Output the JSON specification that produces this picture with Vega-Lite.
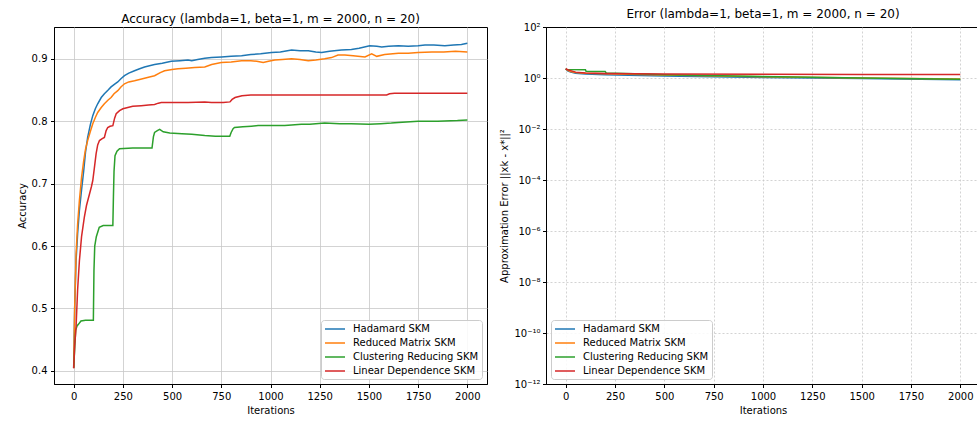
{
  "$schema": "https://vega.github.io/schema/vega-lite/v6.json",
  "padding": {"left": 16, "top": 7, "right": 0, "bottom": 0},
  "spacing": 11,
  "config": {
    "font": "DejaVu Sans",
    "view": {"stroke": "#000000", "strokeWidth": 1},
    "axis": {"labelFont": "DejaVu Sans", "labelFontSize": 10, "labelColor": "#000000", "titleFont": "DejaVu Sans", "titleFontSize": 10, "titleFontWeight": "normal", "titleColor": "#000000", "domainColor": "#000000", "tickColor": "#000000", "tickSize": 3.5, "labelPadding": 3.5, "gridColor": "#c8c8c8", "gridWidth": 0.8},
    "title": {"font": "DejaVu Sans", "fontSize": 12, "fontWeight": "normal", "color": "#000000", "offset": 0, "dy": 3},
    "legend": {"labelFont": "DejaVu Sans", "labelFontSize": 10, "labelColor": "#000000", "symbolType": "M-1,0L3,0", "symbolSize": 100, "symbolStrokeWidth": 1.5, "strokeColor": "#cccccc", "fillColor": "rgba(255,255,255,0.85)", "cornerRadius": 3, "padding": 3, "rowPadding": 3, "labelOffset": 17, "offset": 5}
  },
  "datasets": {
    "acc": [
      {"s":"Hadamard SKM","it":0,"v":0.405},{"s":"Hadamard SKM","it":5,"v":0.5},{"s":"Hadamard SKM","it":12,"v":0.576},{"s":"Hadamard SKM","it":20,"v":0.62},{"s":"Hadamard SKM","it":29,"v":0.657},{"s":"Hadamard SKM","it":40,"v":0.69},{"s":"Hadamard SKM","it":51,"v":0.721},{"s":"Hadamard SKM","it":60,"v":0.75},{"s":"Hadamard SKM","it":71,"v":0.774},{"s":"Hadamard SKM","it":85,"v":0.795},{"s":"Hadamard SKM","it":97,"v":0.809},{"s":"Hadamard SKM","it":110,"v":0.82},{"s":"Hadamard SKM","it":122,"v":0.828},{"s":"Hadamard SKM","it":140,"v":0.838},{"s":"Hadamard SKM","it":156,"v":0.844},{"s":"Hadamard SKM","it":175,"v":0.85},{"s":"Hadamard SKM","it":190,"v":0.855},{"s":"Hadamard SKM","it":210,"v":0.86},{"s":"Hadamard SKM","it":224,"v":0.863},{"s":"Hadamard SKM","it":240,"v":0.868},{"s":"Hadamard SKM","it":258,"v":0.873},{"s":"Hadamard SKM","it":280,"v":0.877},{"s":"Hadamard SKM","it":309,"v":0.881},{"s":"Hadamard SKM","it":335,"v":0.884},{"s":"Hadamard SKM","it":360,"v":0.887},{"s":"Hadamard SKM","it":385,"v":0.889},{"s":"Hadamard SKM","it":411,"v":0.891},{"s":"Hadamard SKM","it":450,"v":0.893},{"s":"Hadamard SKM","it":496,"v":0.896},{"s":"Hadamard SKM","it":540,"v":0.897},{"s":"Hadamard SKM","it":581,"v":0.898},{"s":"Hadamard SKM","it":600,"v":0.897},{"s":"Hadamard SKM","it":630,"v":0.899},{"s":"Hadamard SKM","it":666,"v":0.901},{"s":"Hadamard SKM","it":700,"v":0.902},{"s":"Hadamard SKM","it":751,"v":0.903},{"s":"Hadamard SKM","it":800,"v":0.904},{"s":"Hadamard SKM","it":853,"v":0.905},{"s":"Hadamard SKM","it":900,"v":0.907},{"s":"Hadamard SKM","it":950,"v":0.908},{"s":"Hadamard SKM","it":1005,"v":0.91},{"s":"Hadamard SKM","it":1050,"v":0.911},{"s":"Hadamard SKM","it":1107,"v":0.914},{"s":"Hadamard SKM","it":1150,"v":0.913},{"s":"Hadamard SKM","it":1192,"v":0.913},{"s":"Hadamard SKM","it":1230,"v":0.911},{"s":"Hadamard SKM","it":1260,"v":0.91},{"s":"Hadamard SKM","it":1300,"v":0.912},{"s":"Hadamard SKM","it":1360,"v":0.914},{"s":"Hadamard SKM","it":1411,"v":0.915},{"s":"Hadamard SKM","it":1450,"v":0.917},{"s":"Hadamard SKM","it":1504,"v":0.921},{"s":"Hadamard SKM","it":1540,"v":0.92},{"s":"Hadamard SKM","it":1565,"v":0.919},{"s":"Hadamard SKM","it":1600,"v":0.92},{"s":"Hadamard SKM","it":1650,"v":0.921},{"s":"Hadamard SKM","it":1700,"v":0.92},{"s":"Hadamard SKM","it":1750,"v":0.921},{"s":"Hadamard SKM","it":1785,"v":0.922},{"s":"Hadamard SKM","it":1830,"v":0.922},{"s":"Hadamard SKM","it":1886,"v":0.921},{"s":"Hadamard SKM","it":1930,"v":0.922},{"s":"Hadamard SKM","it":1970,"v":0.923},{"s":"Hadamard SKM","it":2000,"v":0.925},
      {"s":"Reduced Matrix SKM","it":0,"v":0.405},{"s":"Reduced Matrix SKM","it":5,"v":0.5},{"s":"Reduced Matrix SKM","it":12,"v":0.587},{"s":"Reduced Matrix SKM","it":20,"v":0.635},{"s":"Reduced Matrix SKM","it":29,"v":0.673},{"s":"Reduced Matrix SKM","it":40,"v":0.71},{"s":"Reduced Matrix SKM","it":51,"v":0.737},{"s":"Reduced Matrix SKM","it":60,"v":0.755},{"s":"Reduced Matrix SKM","it":71,"v":0.769},{"s":"Reduced Matrix SKM","it":85,"v":0.784},{"s":"Reduced Matrix SKM","it":97,"v":0.796},{"s":"Reduced Matrix SKM","it":110,"v":0.806},{"s":"Reduced Matrix SKM","it":122,"v":0.814},{"s":"Reduced Matrix SKM","it":140,"v":0.822},{"s":"Reduced Matrix SKM","it":156,"v":0.828},{"s":"Reduced Matrix SKM","it":175,"v":0.834},{"s":"Reduced Matrix SKM","it":190,"v":0.838},{"s":"Reduced Matrix SKM","it":205,"v":0.844},{"s":"Reduced Matrix SKM","it":224,"v":0.849},{"s":"Reduced Matrix SKM","it":240,"v":0.855},{"s":"Reduced Matrix SKM","it":258,"v":0.86},{"s":"Reduced Matrix SKM","it":280,"v":0.863},{"s":"Reduced Matrix SKM","it":309,"v":0.865},{"s":"Reduced Matrix SKM","it":335,"v":0.867},{"s":"Reduced Matrix SKM","it":360,"v":0.869},{"s":"Reduced Matrix SKM","it":385,"v":0.871},{"s":"Reduced Matrix SKM","it":411,"v":0.873},{"s":"Reduced Matrix SKM","it":440,"v":0.878},{"s":"Reduced Matrix SKM","it":462,"v":0.881},{"s":"Reduced Matrix SKM","it":500,"v":0.883},{"s":"Reduced Matrix SKM","it":530,"v":0.884},{"s":"Reduced Matrix SKM","it":570,"v":0.885},{"s":"Reduced Matrix SKM","it":615,"v":0.886},{"s":"Reduced Matrix SKM","it":666,"v":0.887},{"s":"Reduced Matrix SKM","it":701,"v":0.891},{"s":"Reduced Matrix SKM","it":750,"v":0.894},{"s":"Reduced Matrix SKM","it":800,"v":0.895},{"s":"Reduced Matrix SKM","it":853,"v":0.897},{"s":"Reduced Matrix SKM","it":900,"v":0.897},{"s":"Reduced Matrix SKM","it":930,"v":0.896},{"s":"Reduced Matrix SKM","it":963,"v":0.894},{"s":"Reduced Matrix SKM","it":990,"v":0.896},{"s":"Reduced Matrix SKM","it":1022,"v":0.898},{"s":"Reduced Matrix SKM","it":1060,"v":0.899},{"s":"Reduced Matrix SKM","it":1107,"v":0.9},{"s":"Reduced Matrix SKM","it":1150,"v":0.899},{"s":"Reduced Matrix SKM","it":1192,"v":0.897},{"s":"Reduced Matrix SKM","it":1230,"v":0.898},{"s":"Reduced Matrix SKM","it":1275,"v":0.9},{"s":"Reduced Matrix SKM","it":1310,"v":0.902},{"s":"Reduced Matrix SKM","it":1343,"v":0.906},{"s":"Reduced Matrix SKM","it":1378,"v":0.906},{"s":"Reduced Matrix SKM","it":1420,"v":0.905},{"s":"Reduced Matrix SKM","it":1480,"v":0.903},{"s":"Reduced Matrix SKM","it":1514,"v":0.908},{"s":"Reduced Matrix SKM","it":1540,"v":0.904},{"s":"Reduced Matrix SKM","it":1580,"v":0.907},{"s":"Reduced Matrix SKM","it":1650,"v":0.909},{"s":"Reduced Matrix SKM","it":1700,"v":0.909},{"s":"Reduced Matrix SKM","it":1750,"v":0.91},{"s":"Reduced Matrix SKM","it":1820,"v":0.911},{"s":"Reduced Matrix SKM","it":1880,"v":0.911},{"s":"Reduced Matrix SKM","it":1940,"v":0.912},{"s":"Reduced Matrix SKM","it":2000,"v":0.911},
      {"s":"Clustering Reducing SKM","it":0,"v":0.405},{"s":"Clustering Reducing SKM","it":10,"v":0.465},{"s":"Clustering Reducing SKM","it":17,"v":0.472},{"s":"Clustering Reducing SKM","it":25,"v":0.475},{"s":"Clustering Reducing SKM","it":37,"v":0.48},{"s":"Clustering Reducing SKM","it":60,"v":0.481},{"s":"Clustering Reducing SKM","it":100,"v":0.481},{"s":"Clustering Reducing SKM","it":103,"v":0.56},{"s":"Clustering Reducing SKM","it":107,"v":0.6},{"s":"Clustering Reducing SKM","it":115,"v":0.615},{"s":"Clustering Reducing SKM","it":130,"v":0.63},{"s":"Clustering Reducing SKM","it":150,"v":0.633},{"s":"Clustering Reducing SKM","it":199,"v":0.633},{"s":"Clustering Reducing SKM","it":202,"v":0.68},{"s":"Clustering Reducing SKM","it":205,"v":0.72},{"s":"Clustering Reducing SKM","it":210,"v":0.745},{"s":"Clustering Reducing SKM","it":220,"v":0.752},{"s":"Clustering Reducing SKM","it":233,"v":0.756},{"s":"Clustering Reducing SKM","it":300,"v":0.757},{"s":"Clustering Reducing SKM","it":398,"v":0.757},{"s":"Clustering Reducing SKM","it":405,"v":0.775},{"s":"Clustering Reducing SKM","it":411,"v":0.782},{"s":"Clustering Reducing SKM","it":425,"v":0.785},{"s":"Clustering Reducing SKM","it":437,"v":0.787},{"s":"Clustering Reducing SKM","it":455,"v":0.783},{"s":"Clustering Reducing SKM","it":488,"v":0.781},{"s":"Clustering Reducing SKM","it":550,"v":0.78},{"s":"Clustering Reducing SKM","it":600,"v":0.779},{"s":"Clustering Reducing SKM","it":666,"v":0.777},{"s":"Clustering Reducing SKM","it":720,"v":0.776},{"s":"Clustering Reducing SKM","it":793,"v":0.776},{"s":"Clustering Reducing SKM","it":800,"v":0.782},{"s":"Clustering Reducing SKM","it":810,"v":0.788},{"s":"Clustering Reducing SKM","it":817,"v":0.79},{"s":"Clustering Reducing SKM","it":860,"v":0.791},{"s":"Clustering Reducing SKM","it":903,"v":0.792},{"s":"Clustering Reducing SKM","it":937,"v":0.793},{"s":"Clustering Reducing SKM","it":1000,"v":0.793},{"s":"Clustering Reducing SKM","it":1072,"v":0.793},{"s":"Clustering Reducing SKM","it":1107,"v":0.794},{"s":"Clustering Reducing SKM","it":1157,"v":0.795},{"s":"Clustering Reducing SKM","it":1200,"v":0.795},{"s":"Clustering Reducing SKM","it":1275,"v":0.797},{"s":"Clustering Reducing SKM","it":1352,"v":0.796},{"s":"Clustering Reducing SKM","it":1410,"v":0.796},{"s":"Clustering Reducing SKM","it":1500,"v":0.795},{"s":"Clustering Reducing SKM","it":1560,"v":0.796},{"s":"Clustering Reducing SKM","it":1614,"v":0.797},{"s":"Clustering Reducing SKM","it":1650,"v":0.798},{"s":"Clustering Reducing SKM","it":1750,"v":0.8},{"s":"Clustering Reducing SKM","it":1850,"v":0.8},{"s":"Clustering Reducing SKM","it":1950,"v":0.801},{"s":"Clustering Reducing SKM","it":2000,"v":0.802},
      {"s":"Linear Dependence SKM","it":0,"v":0.404},{"s":"Linear Dependence SKM","it":5,"v":0.44},{"s":"Linear Dependence SKM","it":12,"v":0.47},{"s":"Linear Dependence SKM","it":20,"v":0.53},{"s":"Linear Dependence SKM","it":29,"v":0.576},{"s":"Linear Dependence SKM","it":40,"v":0.615},{"s":"Linear Dependence SKM","it":54,"v":0.646},{"s":"Linear Dependence SKM","it":65,"v":0.665},{"s":"Linear Dependence SKM","it":80,"v":0.683},{"s":"Linear Dependence SKM","it":90,"v":0.695},{"s":"Linear Dependence SKM","it":97,"v":0.705},{"s":"Linear Dependence SKM","it":105,"v":0.725},{"s":"Linear Dependence SKM","it":114,"v":0.748},{"s":"Linear Dependence SKM","it":122,"v":0.762},{"s":"Linear Dependence SKM","it":131,"v":0.769},{"s":"Linear Dependence SKM","it":145,"v":0.772},{"s":"Linear Dependence SKM","it":156,"v":0.774},{"s":"Linear Dependence SKM","it":165,"v":0.785},{"s":"Linear Dependence SKM","it":173,"v":0.79},{"s":"Linear Dependence SKM","it":185,"v":0.792},{"s":"Linear Dependence SKM","it":199,"v":0.793},{"s":"Linear Dependence SKM","it":208,"v":0.805},{"s":"Linear Dependence SKM","it":216,"v":0.812},{"s":"Linear Dependence SKM","it":233,"v":0.817},{"s":"Linear Dependence SKM","it":250,"v":0.82},{"s":"Linear Dependence SKM","it":275,"v":0.822},{"s":"Linear Dependence SKM","it":300,"v":0.824},{"s":"Linear Dependence SKM","it":343,"v":0.825},{"s":"Linear Dependence SKM","it":380,"v":0.826},{"s":"Linear Dependence SKM","it":411,"v":0.827},{"s":"Linear Dependence SKM","it":430,"v":0.829},{"s":"Linear Dependence SKM","it":445,"v":0.83},{"s":"Linear Dependence SKM","it":500,"v":0.83},{"s":"Linear Dependence SKM","it":581,"v":0.83},{"s":"Linear Dependence SKM","it":666,"v":0.831},{"s":"Linear Dependence SKM","it":700,"v":0.83},{"s":"Linear Dependence SKM","it":760,"v":0.83},{"s":"Linear Dependence SKM","it":794,"v":0.831},{"s":"Linear Dependence SKM","it":805,"v":0.835},{"s":"Linear Dependence SKM","it":820,"v":0.838},{"s":"Linear Dependence SKM","it":855,"v":0.841},{"s":"Linear Dependence SKM","it":900,"v":0.842},{"s":"Linear Dependence SKM","it":1000,"v":0.842},{"s":"Linear Dependence SKM","it":1200,"v":0.842},{"s":"Linear Dependence SKM","it":1400,"v":0.842},{"s":"Linear Dependence SKM","it":1590,"v":0.842},{"s":"Linear Dependence SKM","it":1605,"v":0.844},{"s":"Linear Dependence SKM","it":1630,"v":0.845},{"s":"Linear Dependence SKM","it":1800,"v":0.845},{"s":"Linear Dependence SKM","it":2000,"v":0.845}
    ],
    "err": [
      {"s":"Hadamard SKM","it":0,"v":2.3},{"s":"Hadamard SKM","it":10,"v":1.9},{"s":"Hadamard SKM","it":25,"v":1.7},{"s":"Hadamard SKM","it":50,"v":1.55},{"s":"Hadamard SKM","it":100,"v":1.42},{"s":"Hadamard SKM","it":200,"v":1.33},{"s":"Hadamard SKM","it":500,"v":1.2},{"s":"Hadamard SKM","it":1000,"v":1.05},{"s":"Hadamard SKM","it":1500,"v":0.95},{"s":"Hadamard SKM","it":2000,"v":0.86},
      {"s":"Reduced Matrix SKM","it":0,"v":2.3},{"s":"Reduced Matrix SKM","it":10,"v":2.0},{"s":"Reduced Matrix SKM","it":25,"v":1.8},{"s":"Reduced Matrix SKM","it":50,"v":1.65},{"s":"Reduced Matrix SKM","it":100,"v":1.55},{"s":"Reduced Matrix SKM","it":200,"v":1.48},{"s":"Reduced Matrix SKM","it":500,"v":1.3},{"s":"Reduced Matrix SKM","it":1000,"v":1.12},{"s":"Reduced Matrix SKM","it":1500,"v":1.0},{"s":"Reduced Matrix SKM","it":2000,"v":0.91},
      {"s":"Clustering Reducing SKM","it":0,"v":2.3},{"s":"Clustering Reducing SKM","it":5,"v":2.15},{"s":"Clustering Reducing SKM","it":100,"v":2.1},{"s":"Clustering Reducing SKM","it":103,"v":1.85},{"s":"Clustering Reducing SKM","it":200,"v":1.8},{"s":"Clustering Reducing SKM","it":205,"v":1.58},{"s":"Clustering Reducing SKM","it":400,"v":1.45},{"s":"Clustering Reducing SKM","it":500,"v":1.35},{"s":"Clustering Reducing SKM","it":1000,"v":1.15},{"s":"Clustering Reducing SKM","it":1500,"v":1.0},{"s":"Clustering Reducing SKM","it":2000,"v":0.89},
      {"s":"Linear Dependence SKM","it":0,"v":2.3},{"s":"Linear Dependence SKM","it":10,"v":2.1},{"s":"Linear Dependence SKM","it":25,"v":1.95},{"s":"Linear Dependence SKM","it":50,"v":1.7},{"s":"Linear Dependence SKM","it":100,"v":1.58},{"s":"Linear Dependence SKM","it":200,"v":1.5},{"s":"Linear Dependence SKM","it":500,"v":1.44},{"s":"Linear Dependence SKM","it":1000,"v":1.4},{"s":"Linear Dependence SKM","it":1500,"v":1.37},{"s":"Linear Dependence SKM","it":2000,"v":1.36}
    ]
  },
  "resolve": {"legend": {"color": "independent"}},
  "hconcat": [
    {
      "width": 433,
      "height": 357,
      "title": "Accuracy (lambda=1, beta=1, m = 2000, n = 20)",
      "data": {"name": "acc"},
      "mark": {"type": "line", "strokeWidth": 1.5, "clip": true},
      "encoding": {
        "x": {"field": "it", "type": "quantitative", "scale": {"domain": [-100, 2100], "nice": false, "zero": false}, "axis": {"title": "Iterations", "values": [0,250,500,750,1000,1250,1500,1750,2000], "format": "d", "grid": true, "titlePadding": 4}},
        "y": {"field": "v", "type": "quantitative", "scale": {"domain": [0.379, 0.951], "nice": false, "zero": false}, "axis": {"title": "Accuracy", "values": [0.4,0.5,0.6,0.7,0.8,0.9], "format": ".1f", "grid": true, "titlePadding": 4}},
        "color": {"field": "s", "type": "nominal", "sort": ["Hadamard SKM","Reduced Matrix SKM","Clustering Reducing SKM","Linear Dependence SKM"], "scale": {"domain": ["Hadamard SKM","Reduced Matrix SKM","Clustering Reducing SKM","Linear Dependence SKM"], "range": ["#1f77b4","#ff7f0e","#2ca02c","#d62728"]}, "legend": {"title": null, "orient": "bottom-right"}}
      }
    },
    {
      "width": 434,
      "height": 357,
      "title": "Error (lambda=1, beta=1, m = 2000, n = 20)",
      "data": {"name": "err"},
      "mark": {"type": "line", "strokeWidth": 1.5, "clip": true},
      "encoding": {
        "x": {"field": "it", "type": "quantitative", "scale": {"domain": [-100, 2100], "nice": false, "zero": false}, "axis": {"title": "Iterations", "values": [0,250,500,750,1000,1250,1500,1750,2000], "format": "d", "grid": true, "gridDash": [2, 2], "titlePadding": 4}},
        "y": {"field": "v", "type": "quantitative", "scale": {"type": "log", "domain": [1e-12, 100], "nice": false}, "axis": {"title": "Approximation Error ||xk - x*||²", "values": [1e-12,1e-10,1e-8,1e-6,1e-4,1e-2,1,100], "grid": true, "gridDash": [2, 2], "gridOpacity": {"condition": {"test": "datum.value > 10 || datum.value < 1e-11", "value": 0}, "value": 1}, "labelPadding": 2.5, "titlePadding": 4, "labelExpr": "round(log(datum.value)/LN10) == 2 ? '10²' : round(log(datum.value)/LN10) == 0 ? '10⁰' : round(log(datum.value)/LN10) == -2 ? '10⁻²' : round(log(datum.value)/LN10) == -4 ? '10⁻⁴' : round(log(datum.value)/LN10) == -6 ? '10⁻⁶' : round(log(datum.value)/LN10) == -8 ? '10⁻⁸' : round(log(datum.value)/LN10) == -10 ? '10⁻¹⁰' : '10⁻¹²'"}},
        "color": {"field": "s", "type": "nominal", "sort": ["Hadamard SKM","Reduced Matrix SKM","Clustering Reducing SKM","Linear Dependence SKM"], "scale": {"domain": ["Hadamard SKM","Reduced Matrix SKM","Clustering Reducing SKM","Linear Dependence SKM"], "range": ["#1f77b4","#ff7f0e","#2ca02c","#d62728"]}, "legend": {"title": null, "orient": "bottom-left"}}
      }
    }
  ]
}
